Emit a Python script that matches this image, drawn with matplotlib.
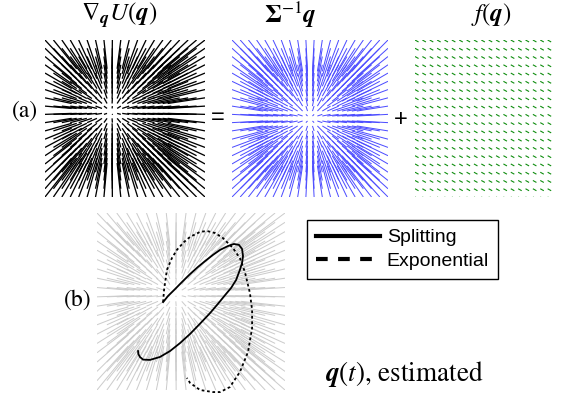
import numpy as np
import matplotlib
matplotlib.use("Agg")
import matplotlib.pyplot as plt
from matplotlib.lines import Line2D

plt.rcParams['mathtext.fontset'] = 'stix'

# ---- data ----
titles = [r'$\nabla_{\boldsymbol{q}} U(\boldsymbol{q})$',
          r'$\mathbf{\Sigma}^{-1}\boldsymbol{q}$',
          r'$f(\boldsymbol{q})$']
grid_n = 20
grid_lo, grid_hi = -3.0, 3.0
sigma_inv = [[1.0, 0.0], [0.0, 1.0]]
f_vec = [0.5, -0.25]
legend_labels = ['Splitting', 'Exponential']

split_q1 = [-0.89, -0.73, -0.51, -0.26, -0.03, 0.22, 0.45, 0.70, 0.93, 1.18, 1.37,
            1.53, 1.63, 1.66, 1.63, 1.56, 1.44, 1.28, 1.09, 0.86, 0.61, 0.29,
            -0.03, -0.35, -0.67, -0.99, -1.31, -1.53, -1.63, -1.68, -1.69]
split_q2 = [-0.02, 0.19, 0.42, 0.69, 0.93, 1.17, 1.37, 1.58, 1.75, 1.88, 1.95,
            1.92, 1.78, 1.54, 1.31, 1.07, 0.73, 0.46, 0.22, -0.08, -0.39, -0.75,
            -1.10, -1.41, -1.68, -1.88, -1.98, -1.97, -1.88, -1.78, -1.68]
exp_q1 = [-0.89, -0.86, -0.77, -0.61, -0.45, -0.22, -0.03, 0.29, 0.51, 0.77, 1.02,
          1.34, 1.56, 1.72, 1.88, 1.95, 1.95, 1.82, 1.56, 1.24, 0.93, 0.70, 0.29,
          -0.03, -0.13]
exp_q2 = [-0.02, 0.39, 1.07, 1.47, 1.75, 2.02, 2.19, 2.36, 2.39, 2.32, 2.15,
          1.81, 1.47, 1.00, 0.29, -0.29, -0.90, -1.71, -2.39, -2.90, -3.07, -3.07,
          -3.00, -2.76, -2.59]

# ---- figure ----
W, H = 566, 394
fig = plt.figure(figsize=(W / 100, H / 100), dpi=100)


def add_px_axes(x0, y0, x1, y1):
    ax = fig.add_axes([x0 / W, 1 - y1 / H, (x1 - x0) / W, (y1 - y0) / H])
    ax.set_axis_off()
    ax.set_xlim(grid_lo, grid_hi)
    ax.set_ylim(grid_lo, grid_hi)
    return ax


g = np.linspace(grid_lo, grid_hi, grid_n)
Q1, Q2 = np.meshgrid(g, g)
S = np.array(sigma_inv)
SQ1 = S[0, 0] * Q1 + S[0, 1] * Q2
SQ2 = S[1, 0] * Q1 + S[1, 1] * Q2

qkw = dict(angles='xy', scale_units='xy', headwidth=0, headlength=0,
           headaxislength=0, units='dots', pivot='tail')

k = 0.4
# panel 1: grad U
ax1 = add_px_axes(45, 40, 205, 197)
ax1.quiver(Q1, Q2, -(SQ1 + f_vec[0]), -(SQ2 + f_vec[1]), scale=1 / k,
           color='black', width=1.3, **qkw)
# panel 2: Sigma^-1 q
ax2 = add_px_axes(232, 40, 388, 197)
ax2.quiver(Q1, Q2, -SQ1, -SQ2, scale=1 / k, color=(0.3, 0.3, 1.0), width=1.0, **qkw)
# panel 3: f(q)
ax3 = add_px_axes(415, 40, 555, 197)
F1 = np.full_like(Q1, f_vec[0])
F2 = np.full_like(Q2, f_vec[1])
ax3.quiver(Q1[:, :19], Q2[:, :19], F1[:, :19], F2[:, :19], scale=3.3,
           color=(0.05, 0.55, 0.05), width=1.1, **qkw)

title_x = [119, 290, 491]
for tx, t in zip(title_x, titles):
    fig.text(tx / W, 1 - 15 / H, t, fontsize=18, ha='center', va='center')

fig.text(25 / W, 1 - 111 / H, '(a)', fontsize=17, family='STIXGeneral',
         ha='center', va='center')
fig.text(218 / W, 1 - 118 / H, '=', fontsize=17, family='Liberation Sans',
         ha='center', va='center')
fig.text(401 / W, 1 - 120 / H, '+', fontsize=17, family='Liberation Sans',
         ha='center', va='center')

# panel b
axb = add_px_axes(97, 213, 285, 390)
axb.quiver(Q1, Q2, -(SQ1 + f_vec[0]), -(SQ2 + f_vec[1]), scale=1 / k,
           color=(0.8, 0.8, 0.8), width=1.0, **qkw)
axb.plot(split_q1, split_q2, color='black', lw=1.3, clip_on=False)
axb.plot(exp_q1, exp_q2, color='black', lw=1.3, ls=(0, (1.5, 1.5)), clip_on=False)

fig.text(78 / W, 1 - 300 / H, '(b)', fontsize=17, family='STIXGeneral',
         ha='center', va='center')
fig.text(325 / W, 1 - 374 / H, r'$\boldsymbol{q}(t)$, estimated', fontsize=19.5,
         family='STIXGeneral', ha='left', va='center')

handles = [Line2D([], [], color='black', lw=3),
           Line2D([], [], color='black', lw=3, ls=(0, (2.8, 2.5)))]
leg = fig.legend(handles, legend_labels, loc='upper left',
                 bbox_to_anchor=(307 / W, 1 - 220 / H),
                 prop={'family': 'Liberation Sans', 'size': 14},
                 fancybox=False, edgecolor='black', framealpha=1,
                 handlelength=3.3, handletextpad=0.35, borderpad=0.45,
                 labelspacing=0.3, borderaxespad=0)
leg.get_frame().set_linewidth(1.0)

fig.savefig('out.png', dpi=100)
